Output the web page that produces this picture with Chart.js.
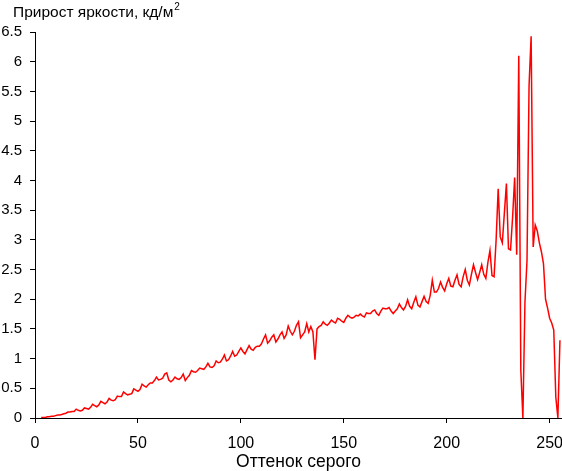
<!DOCTYPE html>
<html>
<head>
<meta charset="utf-8">
<script src="https://cdn.jsdelivr.net/npm/chart.js@4.4.1/dist/chart.umd.min.js"></script>
<style>
  html, body { margin: 0; padding: 0; background: #fff; }
  #chart { display: block; }
</style>
</head>
<body>
<canvas id="chart" width="562" height="471"></canvas>
<script>
const yTitle = "Прирост яркости, кд/м";
const yTitleSup = "2";
const xTitle = "Оттенок серого";

// first gray level that has a value; the rest follow one by one up to 255
const firstLevel = 3;
const brightnessGain = [
    0.01, 0.01, 0.01, 0.02, 0.02, 0.03, 0.03,                   // 3-9
    0.04, 0.05, 0.05, 0.06, 0.07, 0.08, 0.10, 0.10, 0.11, 0.11, // 10-19
    0.15, 0.13, 0.12, 0.13, 0.17, 0.16, 0.15, 0.18, 0.23, 0.21, // 20-29
    0.19, 0.22, 0.28, 0.26, 0.24, 0.27, 0.33, 0.30, 0.29, 0.31, // 30-39
    0.37, 0.36, 0.36, 0.44, 0.41, 0.39, 0.40, 0.41, 0.49, 0.47, // 40-49
    0.45, 0.48, 0.57, 0.54, 0.52, 0.56, 0.59, 0.59, 0.63, 0.69, // 50-59
    0.64, 0.65, 0.67, 0.74, 0.76, 0.64, 0.61, 0.64, 0.69, 0.66, // 60-69
    0.65, 0.68, 0.74, 0.63, 0.68, 0.72, 0.80, 0.78, 0.77, 0.80, // 70-79
    0.84, 0.83, 0.82, 0.86, 0.92, 0.86, 0.85, 0.88, 0.96, 0.93, // 80-89
    0.94, 0.99, 1.06, 0.96, 0.98, 1.04, 1.12, 1.04, 1.06, 1.12, // 90-99
    1.18, 1.12, 1.08, 1.15, 1.22, 1.16, 1.14, 1.19, 1.21, 1.21, // 100-109
    1.25, 1.33, 1.40, 1.26, 1.30, 1.36, 1.40, 1.28, 1.33, 1.40, // 110-119
    1.45, 1.34, 1.40, 1.55, 1.46, 1.40, 1.46, 1.56, 1.62, 1.35, // 120-129
    1.40, 1.45, 1.59, 1.45, 1.54, 1.45, 0.98, 1.50, 1.54, 1.56, // 130-139
    1.62, 1.58, 1.56, 1.60, 1.65, 1.62, 1.60, 1.68, 1.66, 1.63, // 140-149
    1.61, 1.68, 1.73, 1.70, 1.68, 1.70, 1.73, 1.72, 1.75, 1.72, // 150-159
    1.70, 1.77, 1.76, 1.76, 1.80, 1.82, 1.76, 1.73, 1.80, 1.85, // 160-169
    1.84, 1.84, 1.86, 1.80, 1.76, 1.80, 1.84, 1.92, 1.86, 1.82, // 170-179
    1.88, 1.99, 1.88, 1.84, 1.95, 2.04, 1.90, 1.87, 1.96, 2.05, // 180-189
    1.96, 1.93, 2.07, 2.32, 2.12, 2.12, 2.18, 2.29, 2.20, 2.14, // 190-199
    2.26, 2.35, 2.22, 2.21, 2.32, 2.41, 2.25, 2.21, 2.38, 2.50, // 200-209
    2.32, 2.24, 2.42, 2.58, 2.45, 2.33, 2.45, 2.58, 2.42, 2.35, // 210-219
    2.62, 2.82, 2.40, 2.38, 3.00, 3.86, 3.05, 2.95, 3.45, 3.95, // 220-229
    2.85, 2.83, 3.38, 4.05, 2.75, 6.10, 0.80, 0.00, 1.95, 2.65, // 230-239
    5.60, 6.43, 2.88, 3.25, 3.15, 2.95, 2.80, 2.60, 2.00, 1.85, // 240-249
    1.68, 1.60, 1.48, 0.35, 0.00, 1.31                          // 250-255
];

const xMin = 0;
const xMax = 256;
const xStep = 50;
const yMin = 0;
const yMax = 6.5;
const yStep = 0.5;

const FONT = "'Liberation Sans', Arial, sans-serif";

const points = brightnessGain.map((v, i) => ({ x: firstLevel + i, y: v }));

// title in the top-left corner, with a raised "2"
const cornerTitle = {
    id: "cornerTitle",
    afterDraw(chart) {
        const ctx = chart.ctx;
        ctx.save();
        ctx.fillStyle = "#000";
        ctx.textBaseline = "alphabetic";
        ctx.textAlign = "left";
        ctx.font = "15.5px " + FONT;
        ctx.fillText(yTitle, 13, 17);
        const w = ctx.measureText(yTitle).width;
        ctx.font = "10px " + FONT;
        ctx.fillText(yTitleSup, 13 + w + 1, 10);
        ctx.restore();
    }
};

new Chart(document.getElementById("chart"), {
    type: "line",
    data: {
        datasets: [{
            data: points,
            borderColor: "#ff0000",
            borderWidth: 1.5,
            pointRadius: 0,
            tension: 0,
            fill: false
        }]
    },
    options: {
        responsive: false,
        animation: false,
        layout: { padding: { top: 32, left: 0, right: 0, bottom: 0 } },
        plugins: {
            legend: { display: false },
            tooltip: { enabled: false },
            title: { display: false }
        },
        scales: {
            x: {
                type: "linear",
                min: xMin,
                max: xMax,
                afterFit: s => {
                    s.height = 53;
                    s.paddingLeft = 0;
                    s.paddingRight = 0;
                },
                ticks: {
                    stepSize: xStep,
                    includeBounds: false,
                    color: "#000",
                    font: { family: FONT, size: 16 },
                    padding: 11,
                    maxRotation: 0
                },
                grid: { drawOnChartArea: false, drawTicks: true, tickLength: 5, color: "#000" },
                border: { color: "#000", width: 1 },
                title: {
                    display: true,
                    text: xTitle,
                    color: "#000",
                    font: { family: FONT, size: 17.5 },
                    padding: { top: 0, bottom: -2 }
                }
            },
            y: {
                min: yMin,
                max: yMax,
                afterFit: s => {
                    s.width = 35;
                    s.paddingTop = 0;
                    s.paddingBottom = 0;
                },
                ticks: {
                    stepSize: yStep,
                    color: "#000",
                    font: { family: FONT, size: 15 },
                    padding: 8,
                    callback: v => String(v)
                },
                grid: { drawOnChartArea: false, drawTicks: true, tickLength: 5, color: "#000" },
                border: { color: "#000", width: 1 }
            }
        }
    },
    plugins: [cornerTitle]
});
</script>
</body>
</html>
